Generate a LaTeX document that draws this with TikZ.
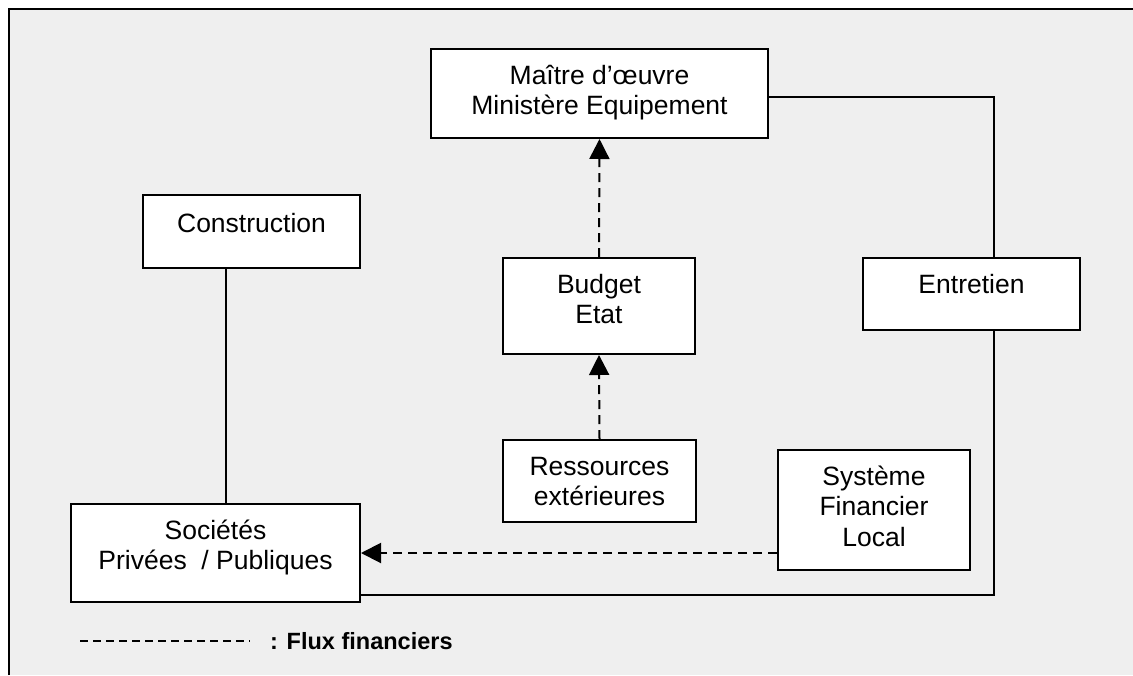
\documentclass[tikz,border=0pt]{standalone}
\usepackage{fontspec}
\setmainfont{Liberation Sans}
\usetikzlibrary{arrows.meta}
\definecolor{panel}{HTML}{EFEFEF}
% box text: fixed width/height, lines hung from the top
\newcommand{\boxtxt}[3]{\parbox[c][#2][t]{#1}{\centering\fontsize{26.5}{30.5}\selectfont\rule{0pt}{35pt}#3\par}}
\tikzset{
  box/.style={draw, fill=white, line width=2pt, inner sep=0pt, anchor=north west},
  link/.style={line width=2pt},
  flow/.style={line width=2pt, dash pattern=on 9pt off 6pt, -{Triangle[length=20pt,width=20pt]}},
}
\begin{document}
\begin{tikzpicture}[x=1pt,y=-1pt]
\useasboundingbox (0,0) rectangle (1133,675);
% panel and its frame
\fill[panel] (9,9) rectangle (1133,675);
\draw[line width=2.5pt] (9,675) -- (9,9) -- (1133,9);

% boxes
\node[box] (mai) at (430,48)  {\boxtxt{337pt}{89pt}{Maître d’œuvre\\Ministère Equipement}};
\node[box] (con) at (142,194) {\boxtxt{217pt}{73pt}{\rule{0pt}{37pt}Construction}};
\node[box] (bud) at (502,257) {\boxtxt{192pt}{96pt}{Budget\\Etat}};
\node[box] (ent) at (862,257) {\boxtxt{217pt}{72pt}{Entretien}};
\node[box] (res) at (502,439) {\boxtxt{193pt}{82pt}{Ressources\\extérieures}};
\node[box] (sys) at (777,449) {\boxtxt{192pt}{120pt}{Système\\Financier\\Local}};
\node[box] (soc) at (70,503)  {\boxtxt{289pt}{98pt}{Sociétés\\Privées\ \ / Publiques}};

% solid links
\draw[link] ([yshift=-3.5pt]mai.east) -| ([xshift=22.5pt]ent.north);
\draw[link] ([xshift=22.5pt]ent.south) |- ([yshift=8pt]soc.south east);
\draw[link] ([xshift=-25.5pt]con.south) -- ([xshift=-25.5pt]con.south |- soc.north);

% financial flows
\draw[flow] (res.north) -- (bud.south);
\draw[flow] (bud.north) -- (mai.south);
\draw[flow] (sys.west |- soc.east) -- (soc.east);

% legend
\coordinate (lg1) at (80,641);
\coordinate (lg2) at (250,641);
\draw[line width=2pt, dash pattern=on 8pt off 5pt] (lg1) -- (lg2);
\node[anchor=base west, inner sep=0pt, font=\fontsize{23.5}{28}\selectfont\bfseries] (lgt) at (270,649) {: Flux financiers};
\end{tikzpicture}
\end{document}
